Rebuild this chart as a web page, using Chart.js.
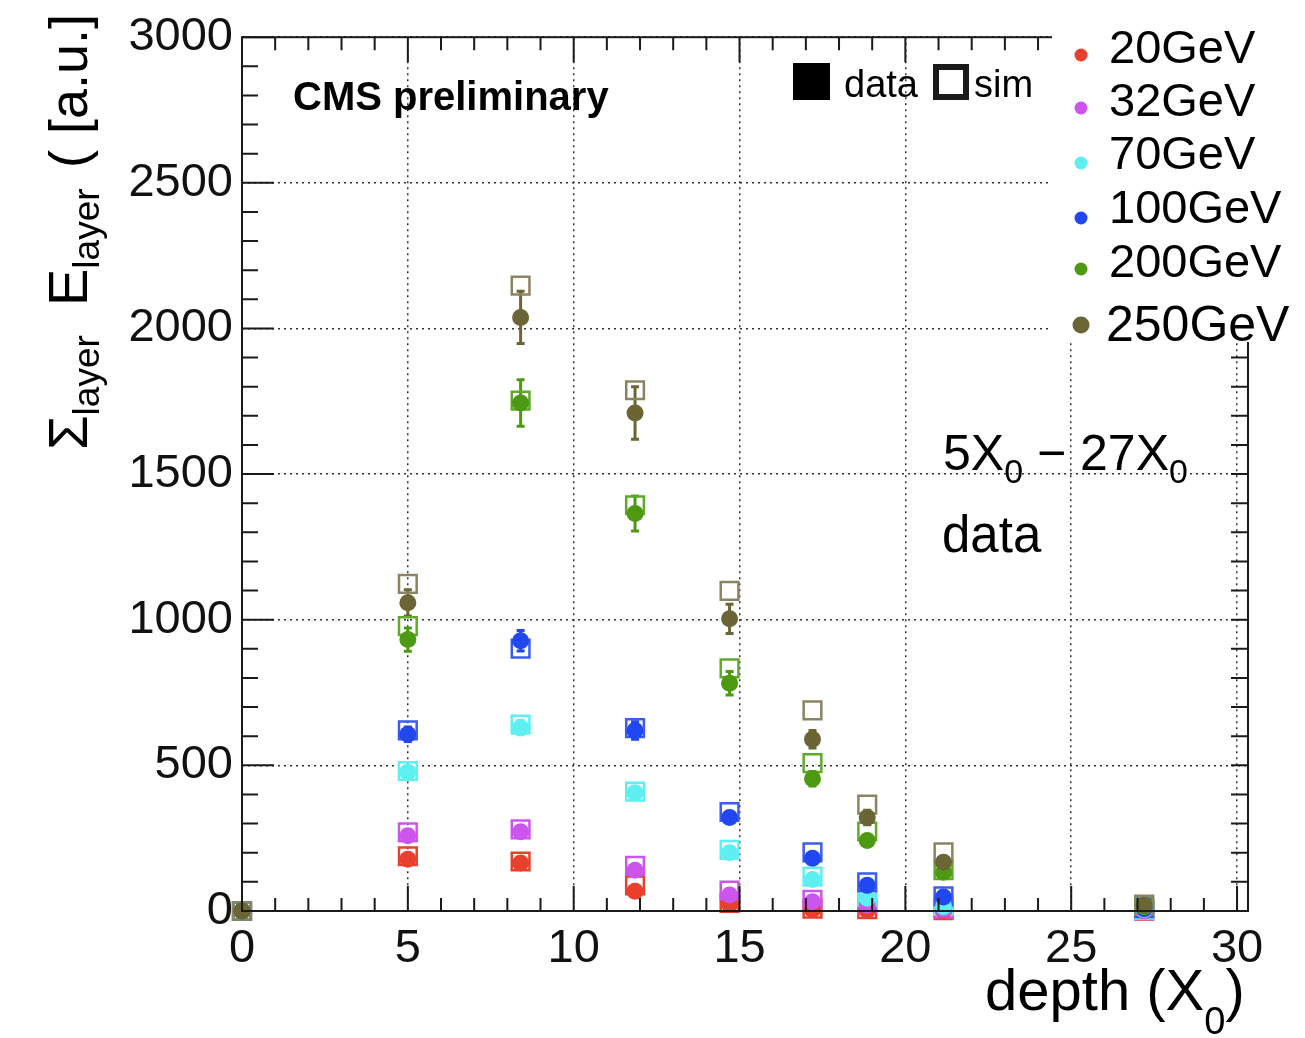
<!DOCTYPE html>
<html>
<head>
<meta charset="utf-8">
<script src="https://cdn.jsdelivr.net/npm/chart.js@4.4.0/dist/chart.umd.min.js"></script>
<style>
  html, body { margin: 0; padding: 0; background: #fff; }
  #plot { display: block; }
</style>
</head>
<body>
<canvas id="plot" width="1305" height="1038"></canvas>
<script>
const FONT = '"Liberation Sans", Arial, Helvetica, sans-serif';

// shower depth of each sampled layer (X0)
const depth = [0, 5.0, 8.4, 11.85, 14.7, 17.2, 18.85, 21.15, 27.2];

const energies = ['20GeV', '32GeV', '70GeV', '100GeV', '200GeV', '250GeV'];
const colors = ['#e8402c', '#cc55ee', '#5ef0f0', '#2148f0', '#4d9a12', '#6b6536'];
const simColors = ['#e8402c', '#cc55ee', '#5ef0f0', '#3a5cf5', '#5eaa2a', '#8a8462'];

// measured (data) values
const data20 = [0, 178, 165, 68, 22, 5, 3, 2, 1];
const data32 = [0, 258, 272, 140, 55, 32, 20, 5, 2];
const data70 = [0, 476, 630, 406, 200, 108, 44, 15, 5];
const data100 = [0, 607, 928, 620, 321, 181, 88, 48, 8];
const data200 = [0, 932, 1744, 1365, 782, 454, 242, 133, 15];
const data250 = [0, 1058, 2038, 1710, 1003, 590, 321, 167, 20];

// simulation values
const sim20 = [0, 188, 170, 88, 28, 8, 6, 3, 1];
const sim32 = [0, 270, 280, 155, 70, 38, 25, 8, 3];
const sim70 = [0, 480, 640, 410, 210, 118, 48, 18, 5];
const sim100 = [0, 620, 901, 628, 340, 201, 98, 50, 10];
const sim200 = [0, 978, 1752, 1393, 833, 508, 273, 140, 18];
const sim250 = [0, 1123, 2147, 1788, 1099, 689, 365, 201, 22];

// errors on the data points
const err20 = [0, 12, 10, 12, 8, 4, 3, 2, 1];
const err32 = [0, 18, 12, 12, 10, 6, 4, 3, 1];
const err70 = [0, 12, 25, 12, 12, 8, 6, 4, 2];
const err100 = [0, 25, 35, 30, 18, 12, 8, 5, 2];
const err200 = [0, 40, 80, 60, 40, 25, 15, 12, 5];
const err250 = [0, 45, 90, 90, 50, 30, 25, 15, 6];

const xTicks = [0, 5, 10, 15, 20, 25, 30];
const yTicks = [0, 500, 1000, 1500, 2000, 2500, 3000];

const dataSeries = [data20, data32, data70, data100, data200, data250];
const simSeries = [sim20, sim32, sim70, sim100, sim200, sim250];
const errSeries = [err20, err32, err70, err100, err200, err250];

const toPoints = vals => vals.map((v, i) => ({x: depth[i], y: v}));

const datasets = [];
energies.forEach((name, i) => {
  datasets.push({
    label: name + ' data',
    data: toPoints(dataSeries[i]),
    errors: errSeries[i],
    pointStyle: 'circle',
    pointRadius: 8.5,
    backgroundColor: colors[i],
    borderColor: colors[i],
    borderWidth: 0,
    order: 5 - i,
    clip: false
  });
  datasets.push({
    label: name + ' sim',
    data: toPoints(simSeries[i]),
    pointStyle: 'rect',
    pointRadius: 12.5,
    backgroundColor: 'rgba(0,0,0,0)',
    borderColor: simColors[i],
    borderWidth: 2.5,
    order: 15 - i,
    clip: false
  });
});

const errorBars = {
  id: 'errorBars',
  beforeDatasetsDraw(chart) {
    const {ctx, scales: {y}} = chart;
    chart.data.datasets.forEach((ds, i) => {
      if (!ds.errors) return;
      const meta = chart.getDatasetMeta(i);
      ctx.save();
      ctx.strokeStyle = ds.borderColor;
      ctx.lineWidth = 3;
      meta.data.forEach((pt, j) => {
        const e = ds.errors[j];
        if (!e) return;
        const v = ds.data[j].y;
        const y1 = y.getPixelForValue(v - e);
        const y2 = y.getPixelForValue(v + e);
        ctx.beginPath();
        ctx.moveTo(pt.x, y1);
        ctx.lineTo(pt.x, y2);
        ctx.moveTo(pt.x - 4, y1);
        ctx.lineTo(pt.x + 4, y1);
        ctx.moveTo(pt.x - 4, y2);
        ctx.lineTo(pt.x + 4, y2);
        ctx.stroke();
      });
      ctx.restore();
    });
  }
};

// draws text pieces one after another, subscripts smaller and lower
function drawPieces(ctx, x, y, pieces) {
  pieces.forEach(p => {
    ctx.font = (p.bold ? 'bold ' : '') + p.size + 'px ' + FONT;
    ctx.fillText(p.t, x, y + (p.dy || 0));
    x += ctx.measureText(p.t).width;
  });
}

const decorations = {
  id: 'decorations',
  afterDraw(chart) {
    const {ctx, chartArea: a, scales: {x, y}} = chart;
    ctx.save();

    // frame and ROOT style inner ticks
    ctx.strokeStyle = '#1a1a1a';
    ctx.lineWidth = 2;
    ctx.strokeRect(a.left, a.top, a.right - a.left, a.bottom - a.top);
    ctx.beginPath();
    for (let v = 0; v <= 30; v++) {
      const px = x.getPixelForValue(v);
      const len = v % 5 === 0 ? 25 : 13;
      ctx.moveTo(px, a.bottom);
      ctx.lineTo(px, a.bottom - len);
      ctx.moveTo(px, a.top);
      ctx.lineTo(px, a.top + len);
    }
    for (let v = 0; v <= 3000; v += 100) {
      const py = y.getPixelForValue(v);
      const len = v % 500 === 0 ? 32 : 16;
      ctx.moveTo(a.left, py);
      ctx.lineTo(a.left + len, py);
      ctx.moveTo(a.right, py);
      ctx.lineTo(a.right - 17, py);
    }
    ctx.stroke();

    // legend box covers the corner of the frame
    ctx.fillStyle = '#fff';
    ctx.fillRect(1052, 0, 253, 342);

    ctx.fillStyle = '#000';
    ctx.textBaseline = 'alphabetic';
    ctx.textAlign = 'left';

    const legendY = [55, 108, 163, 218, 269, 325];
    const legendBase = [63, 116, 169, 223, 277, 341];
    energies.forEach((name, i) => {
      const big = i === energies.length - 1;
      ctx.fillStyle = colors[i];
      ctx.beginPath();
      ctx.arc(1081, legendY[i], big ? 8.5 : 6.5, 0, Math.PI * 2);
      ctx.fill();
      ctx.fillStyle = '#000';
      ctx.font = (big ? 50 : 47) + 'px ' + FONT;
      ctx.fillText(name, big ? 1106 : 1109, legendBase[i]);
    });

    // data / sim key
    ctx.fillRect(793, 63, 37, 37);
    ctx.lineWidth = 6;
    ctx.strokeRect(936, 67, 30, 30);
    ctx.font = '38px ' + FONT;
    ctx.fillText('data', 844, 97);
    ctx.fillText('sim', 974, 97);

    // CMS label
    ctx.font = 'bold 40px ' + FONT;
    ctx.fillText('CMS preliminary', 293, 110);

    // energy window
    drawPieces(ctx, 943, 470, [
      {t: '5X', size: 50},
      {t: '0', size: 34, dy: 13},
      {t: ' \u2212 27X', size: 50},
      {t: '0', size: 34, dy: 13}
    ]);
    ctx.font = '51px ' + FONT;
    ctx.fillText('data', 942, 552);

    // x axis title
    drawPieces(ctx, 985, 1010, [
      {t: 'depth (X', size: 58},
      {t: '0', size: 38, dy: 24},
      {t: ')', size: 58}
    ]);

    // y axis title, rotated
    ctx.save();
    ctx.translate(87, 0);
    ctx.rotate(-Math.PI / 2);
    drawPieces(ctx, -450, 0, [
      {t: '\u03a3', size: 56},
      {t: 'layer', size: 37, dy: 12}
    ]);
    drawPieces(ctx, -306, 0, [
      {t: 'E', size: 56},
      {t: 'layer', size: 37, dy: 12}
    ]);
    drawPieces(ctx, -168, 0, [{t: '(', size: 54}]);
    drawPieces(ctx, -134, 0, [{t: '[a.u.]', size: 54}]);
    ctx.restore();

    ctx.restore();
  }
};

const gridStyle = {
  color: '#333',
  lineWidth: 1.5,
  drawTicks: false
};

new Chart(document.getElementById('plot'), {
  type: 'scatter',
  data: {datasets},
  options: {
    responsive: false,
    animation: false,
    events: [],
    layout: {padding: {top: 31, right: 57, left: 0, bottom: 0}},
    plugins: {
      legend: {display: false},
      tooltip: {enabled: false}
    },
    scales: {
      x: {
        type: 'linear',
        min: 0,
        max: 30.33,
        afterBuildTicks: s => { s.ticks = xTicks.map(v => ({value: v})); },
        afterFit: s => { s.height = 127; },
        grid: gridStyle,
        border: {display: false, dash: [2, 4]},
        ticks: {
          padding: 10,
          maxRotation: 0,
          color: '#111',
          font: {family: FONT, size: 47},
          callback: v => String(v)
        }
      },
      y: {
        type: 'linear',
        min: 0,
        max: 3000,
        afterBuildTicks: s => { s.ticks = yTicks.map(v => ({value: v})); },
        afterFit: s => { s.width = 242; },
        grid: gridStyle,
        border: {display: false, dash: [2, 4]},
        ticks: {
          padding: 9,
          color: '#111',
          font: {family: FONT, size: 47},
          callback: v => String(v)
        }
      }
    }
  },
  plugins: [errorBars, decorations]
});
</script>
</body>
</html>
